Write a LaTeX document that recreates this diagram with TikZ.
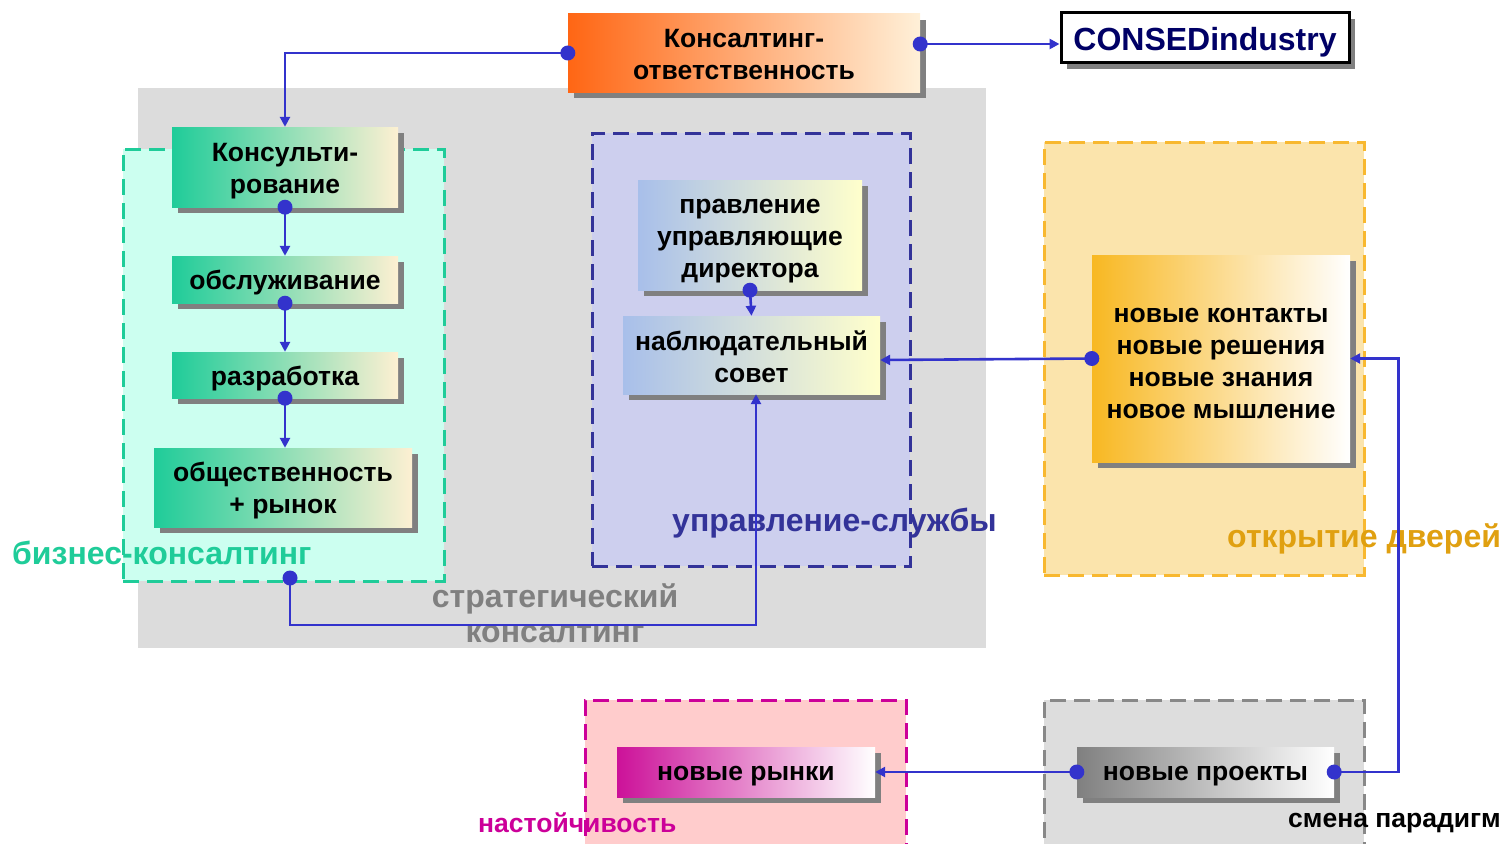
\documentclass[tikz,border=0pt]{standalone}
\usepackage{fontspec}
\setmainfont{Liberation Sans}
\usetikzlibrary{arrows.meta,shadows,calc}
\definecolor{lineblue}{HTML}{3333CC}
\definecolor{bggray}{HTML}{DCDCDC}
\definecolor{shadowgray}{HTML}{808080}
\definecolor{grn}{HTML}{1FCC99}
\definecolor{mint}{HTML}{CCFFF0}
\definecolor{cream}{HTML}{FDF0D2}
\definecolor{navy}{HTML}{333399}
\definecolor{lav}{HTML}{CDCFEE}
\definecolor{bluebox}{HTML}{A8BFEA}
\definecolor{lyellow}{HTML}{FFFFCC}
\definecolor{orreg}{HTML}{FBE4AC}
\definecolor{orline}{HTML}{F8B830}
\definecolor{orlab}{HTML}{E0A010}
\definecolor{orbox}{HTML}{F8B822}
\definecolor{pinkreg}{HTML}{FFCCCC}
\definecolor{mag}{HTML}{CC0099}
\definecolor{magbox}{HTML}{CC1199}
\definecolor{grayreg}{HTML}{DDDDDD}
\definecolor{grayline}{HTML}{888888}
\definecolor{orange1}{HTML}{FF6614}
\definecolor{cream2}{HTML}{FFF0D8}
\definecolor{consnavy}{HTML}{000066}
\begin{document}
\begin{tikzpicture}[x=1pt,y=-1pt,
  boxn/.style={rectangle, inner sep=0pt,
    general shadow={fill=shadowgray, shadow xshift=6pt, shadow yshift=-6pt}},
  btxt/.style={inner sep=0pt, align=center, font=\bfseries\fontsize{26.5}{32}\selectfont},
  region/.style={rectangle, inner sep=0pt, line width=3pt, dash pattern=on 16pt off 8pt},
  conn/.style={draw=lineblue, line width=2.6pt},
  arr/.style={conn, -{Triangle[length=10pt,width=10pt]}},
  dotn/.style={circle, fill=lineblue, inner sep=0pt, minimum size=15pt},
  lab/.style={font=\bfseries\fontsize{32}{35}\selectfont, inner sep=0pt, align=center},
  slab/.style={font=\bfseries\fontsize{26.5}{30}\selectfont, inner sep=0pt, align=center}
]
\clip (0,0) rectangle (1504,843);
\fill[white] (0,0) rectangle (1504,843);
% background
\fill[bggray] (138,88) rectangle (986,648);
% regions
\node[region, draw=grn, fill=mint, minimum width=321pt, minimum height=432pt] (biz) at (283.5,365) {};
\node[region, draw=navy, fill=lav, minimum width=318pt, minimum height=433pt] (upr) at (751,349.5) {};
\node[region, draw=orline, fill=orreg, minimum width=320pt, minimum height=433pt] (otk) at (1204,358.5) {};
\node[region, draw=mag, fill=pinkreg, minimum width=321pt, minimum height=150pt] (nas) at (745.5,775) {};
\node[region, draw=grayline, fill=grayreg, minimum width=320pt, minimum height=150pt] (smp) at (1204,775) {};
% labels
\node[lab, text=grn, anchor=west] (lbiz) at (12,553) {бизнес-консалтинг};
\node[lab, text=navy, anchor=west] (lupr) at (672,523) {управление-службы};
\node[lab, text=orlab, anchor=west] (lotk) at (1227,539) {открытие дверей};
\node[lab, text=shadowgray] (lstr) at (555,613) {стратегический\\консалтинг};
\node[slab, text=mag, anchor=west] (lnas) at (478,823) {настойчивость};
\node[slab, text=black, anchor=west] (lsmp) at (1288,823) {смена парадигм};
% boxes
\node[boxn, left color=orange1, right color=cream2, minimum width=352pt, minimum height=78pt] (kons) at (744,53) {};
\node[btxt] (tkons) at ([yshift=-2pt]kons.center) {Консалтинг-\\ответственность};
\node[rectangle, draw=black, line width=3pt, fill=white, inner sep=0pt, minimum width=288pt, minimum height=50pt,
  general shadow={fill=shadowgray, shadow xshift=6pt, shadow yshift=-6pt}] (cons) at (1205,38) {};
\node[inner sep=0pt, font=\bfseries\fontsize{32}{36}\selectfont, text=consnavy] (tcons) at ([yshift=-4pt]cons.center) {CONSEDindustry};
\node[boxn, left color=grn, right color=cream, minimum width=226pt, minimum height=80pt] (konsu) at (285,167) {};
\node[btxt] (tkonsu) at ([yshift=-4pt]konsu.center) {Консульти-\\рование};
\node[boxn, left color=grn, right color=cream, minimum width=226pt, minimum height=47pt] (obs) at (285,279.5) {};
\node[btxt] (tobs) at ([yshift=-3.5pt]obs.center) {обслуживание};
\node[boxn, left color=grn, right color=cream, minimum width=226pt, minimum height=46pt] (razr) at (285,375) {};
\node[btxt] (trazr) at ([yshift=-4pt]razr.center) {разработка};
\node[boxn, left color=grn, right color=cream, minimum width=258pt, minimum height=79pt] (obsch) at (283,487.5) {};
\node[btxt] (tobsch) at ([yshift=-3.5pt]obsch.center) {общественность\\+ рынок};
\node[boxn, left color=bluebox, right color=lyellow, minimum width=224pt, minimum height=110pt] (prav) at (750,235) {};
\node[btxt] (tprav) at ([yshift=-6pt]prav.center) {правление\\управляющие\\директора};
\node[boxn, left color=bluebox, right color=lyellow, minimum width=257pt, minimum height=78pt] (nab) at (751.5,355) {};
\node[btxt] (tnab) at ([yshift=-1.5pt]nab.center) {наблюдательный\\совет};
\node[boxn, left color=orbox, middle color=orbox!35!white, right color=white, minimum width=258pt, minimum height=207pt] (novk) at (1221,358.5) {};
\node[btxt] (tnovk) at ([yshift=-5pt]novk.center) {новые контакты\\новые решения\\новые знания\\новое мышление};
\node[boxn, left color=magbox, middle color=magbox!30!white, right color=white, minimum width=258pt, minimum height=50pt] (nr) at (746,772) {};
\node[btxt] (tnr) at ([yshift=-4pt]nr.center) {новые рынки};
\node[boxn, left color=shadowgray, middle color=shadowgray!40!white, right color=white, minimum width=257pt, minimum height=50pt] (np) at (1205.5,772) {};
\node[btxt] (tnp) at ([yshift=-4pt]np.center) {новые проекты};
% dots
\node[dotn] (dKL) at (kons.west) {};
\node[dotn] (dKR) at ([yshift=9pt]kons.east) {};
\node[dotn] (d1) at (konsu.south) {};
\node[dotn] (d2) at (obs.south) {};
\node[dotn] (d3) at (razr.south) {};
\node[dotn] (dB) at (290,578) {};
\node[dotn] (dP) at (prav.south) {};
\node[dotn] (dN) at (novk.west) {};
\node[dotn] (dPL) at (np.west) {};
\node[dotn] (dPR) at (np.east) {};
% connectors
\draw[arr] (dKL.center) -| (konsu.north);
\draw[arr] (dKR.center) -- (dKR.center -| cons.west);
\draw[arr] (d1.center) -- (obs.north);
\draw[arr] (d2.center) -- (razr.north);
\draw[arr] (d3.center) -- (d3.center |- obsch.north);
\draw[arr] (dP.center) -- (nab.north);
\draw[arr] (dB.center) -- ++(0,47) -| ([xshift=4.5pt]nab.south);
\draw[arr] (dN.center) -- ([yshift=-5pt]nab.east);
\draw[arr] (dPL.center) -- (nr.east);
\draw[arr] (dPR.center) -- ++(64,0) |- (novk.east);
\end{tikzpicture}
\end{document}
